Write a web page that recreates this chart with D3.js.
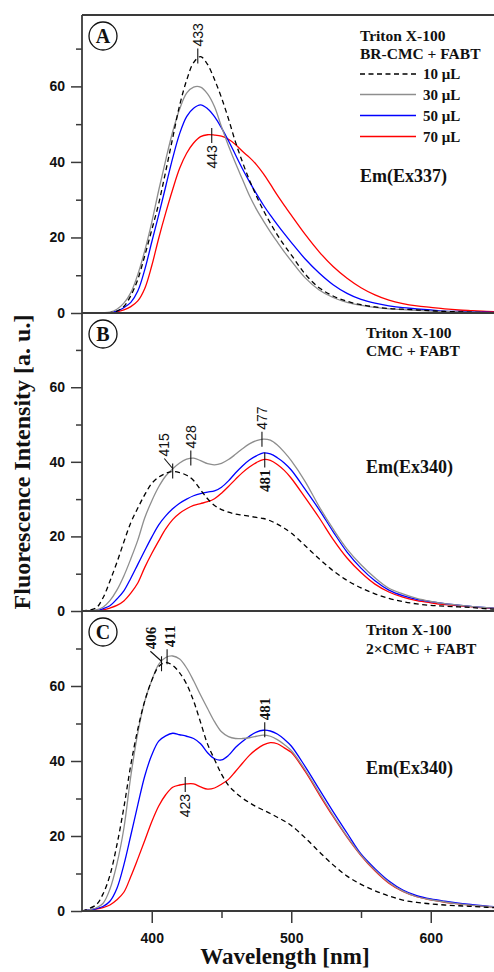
<!DOCTYPE html>
<html><head><meta charset="utf-8">
<script src="https://cdn.jsdelivr.net/npm/d3@7"></script>
<style>body{margin:0;background:#fff}svg{display:block}</style>
</head><body><svg id="c" width="494" height="972"></svg>
<script>
// ---------- DATA ----------
const wavelengths = [350,360,365,370,375,380,385,390,395,400,405,410,415,420,425,430,435,440,445,450,455,460,465,470,475,480,485,490,495,500,510,520,530,540,550,560,570,580,590,600,610,620,630,640,650];
const xTicks = [400,500,600];
const xMinorTicks = [450,550];
const yTicks = [0,20,40,60];
const yMinorTicks = [10,30,50,70];
const seriesNames = ["10 \u03bcL","30 \u03bcL","50 \u03bcL","70 \u03bcL"];

// Panel A: BR-CMC + FABT, Em(Ex337)
const A_10 = [0,0,0,0.1,0.5,1.7,4.6,8.9,15.2,22,29,37.5,46.3,55,61.6,66.3,67.9,65.8,61.8,57,51.4,45.3,40,35.2,31,27.2,23.8,20.7,17.9,15.4,10.3,6.7,4.5,3.1,2.2,1.6,1.2,1,0.8,0.6,0.4,0.3,0.2,0.1,0.1];
const A_30 = [0,0,0.05,0.2,1.0,2.6,5.4,10.2,16.5,24,32.5,40.5,48,54,58.2,59.8,59.8,58,54.6,49.3,44.3,39.7,35.4,31.1,27.5,24.4,21.5,18.8,16.2,13.8,9.3,6.1,4.1,2.8,2.0,1.5,1.1,0.9,0.7,0.5,0.4,0.3,0.2,0.1,0.1];
const A_50 = [0,0,0,0.1,0.5,1.4,2.8,5.8,11.5,18.8,26,33.5,41,47.5,52,54.2,55.1,54.1,52,49,45.6,41.9,38.2,34.8,31.6,28.6,25.9,23.4,21,18.7,14.3,10.6,7.5,5.2,3.6,2.6,1.9,1.4,1.1,0.8,0.5,0.4,0.3,0.2,0.1];
const A_70 = [0,0,0,0.1,0.3,0.8,1.7,3.2,6.5,12.5,19.8,26.5,32.7,38.3,42.3,45,46.7,47.2,47.1,46.8,46,44.6,42.8,41.2,39.3,36.9,34.1,31.2,28.5,25.9,20.8,16.2,12.3,9.2,6.7,4.8,3.4,2.5,1.9,1.5,1.1,0.8,0.6,0.4,0.3];

// Panel B: CMC + FABT, Em(Ex340)
const B_10 = [0,0.8,3.5,8,13,18.5,23.7,27.6,31.2,34.2,35.9,36.9,37.4,37.1,36.4,35,32.5,30.1,28.3,27.2,26.5,26,25.7,25.4,25.1,24.8,24.2,23.3,22.2,20.9,17.5,14,10.8,8.2,6.2,4.6,3.4,2.5,1.9,1.5,1.3,1.1,0.9,0.6,0.4];
const B_30 = [0,0.3,1,2.8,5.6,9.4,14,19,25,29.5,33.3,36.2,38.1,39.7,40.7,41,40.3,39.5,39.2,39.6,40.6,42,43.5,44.8,45.7,46.1,45.8,44.5,42.6,40.3,34.7,28,22,16.6,12.4,8.9,6.1,4.6,3.4,2.6,2.0,1.6,1.2,0.9,0.7];
const B_50 = [0,0.1,0.6,1.4,3.2,5.4,8.8,12.5,16.2,19.8,23.1,25.5,27.4,28.9,30,30.9,31.5,31.9,32.2,33.2,34.9,37,38.9,40.5,41.6,42.4,42.1,41.1,39.7,37.8,32.6,27.2,21.3,15.8,11.5,8.1,5.6,4.1,3.1,2.5,2.0,1.6,1.2,0.9,0.7];
const B_70 = [0,0,0.3,0.8,1.5,2.7,4.8,7.5,11.7,15.4,18.8,22,24.5,26.2,27.4,28.3,28.8,29.3,30.1,31.6,33.4,35.3,37.1,38.6,39.8,40.6,40.4,39.3,37.7,35.6,30.4,25,19.2,14.2,10.3,7.2,5.1,3.7,2.8,2.2,1.7,1.4,1.1,0.8,0.6];

// Panel C: 2xCMC + FABT, Em(Ex340)
const C_10 = [0,1.6,4.5,9.5,17.6,27.6,39,48.5,56,61.5,65.2,66.3,65.5,63.5,60.5,56,50.3,44.5,40.4,36.5,33.5,31.6,30.1,28.9,27.8,26.9,26,25,24,22.8,19.5,15.8,12.3,9.3,7.1,5.4,4,2.9,2.3,1.9,1.6,1.4,1.2,1.0,0.8];
const C_30 = [0,0.8,2,5.8,12.5,22,36,47.5,56,61.5,65.8,67.6,68,67.2,64.8,61.4,57.6,54,50.5,47.8,46.5,46,46,46.2,46.6,46.9,46.6,45.7,44.4,42.8,37.6,31.5,25.5,19.9,14.9,10.9,7.6,5.3,3.8,3,2.4,1.9,1.5,1.2,1.0];
const C_50 = [0,0.6,1.2,2.6,6,12.3,20.2,28.3,36,41.6,45.3,46.7,47.4,47,46.6,46,44.6,42.2,40.6,40.3,41.5,43.6,45.2,46.6,47.7,48.2,48,47.2,45.8,44,38.5,32.5,26.5,20.8,15.2,11.3,8,5.6,4.1,3.2,2.6,2.1,1.7,1.3,1.0];
const C_70 = [0,0.5,0.9,1.6,3,5,9.2,13.9,18.8,23.8,28,31,33,33.6,33.9,33.9,33.1,32.5,32.8,33.8,35.1,37.2,39.4,41.5,43.1,44.3,44.9,44.6,43.5,42.3,37.2,31.1,25.2,19.7,14.8,10.7,7.4,5.2,3.8,3,2.3,1.9,1.5,1.2,0.9];

const panelLetters = ["A","B","C"];
const panelSeries = [[A_10,A_30,A_50,A_70],[B_10,B_30,B_50,B_70],[C_10,C_30,C_50,C_70]];
const panelTitles = [["Triton X-100","BR-CMC + FABT"],["Triton X-100","CMC + FABT"],["Triton X-100","2\u00d7CMC + FABT"]];
const panelEm = ["Em(Ex337)","Em(Ex340)","Em(Ex340)"];
// peak annotations: panel index, label, wavelength, intensity, side, label shift (nm), serif?
const annotations = [
  [0,"433",433,67.9,"up",0,false],
  [0,"443",443,47.1,"down",0,false],
  [1,"415",415,37.4,"up",-6,false],
  [1,"428",428,40.9,"up",0,false],
  [1,"477",479,45.9,"up",0,false],
  [1,"481",481,40.6,"down",0,true],
  [2,"406",407,65.8,"up",-8,true],
  [2,"411",411,67.7,"up",2,true],
  [2,"423",424,33.9,"down",0,false],
  [2,"481",481,48.2,"up",0,true]
];

// ---------- LAYOUT ----------
const W = 494, H = 972;
const left = 82;
const panels = [{top:15,bottom:313,ymax:78.9},{top:313,bottom:611,ymax:79.9},{top:611,bottom:911,ymax:80}];
const colors = ["#000000","#8e8e8e","#0000ff","#ff0000"];
const dashes = ["5,3.5",null,null,null];
const axisColor = "#3a3a3a";
const serif = "'Liberation Serif','Times New Roman',serif";
const sans = "'Liberation Sans',Arial,sans-serif";

const svg = d3.select("#c");
const x = d3.scaleLinear().domain([350,650]).range([left, left + 300*1.395]);

panels.forEach((p,i) => {
  const y = d3.scaleLinear().domain([0,p.ymax]).range([p.bottom,p.top]);
  const g = svg.append("g");
  const clipId = "clip"+i;
  svg.append("clipPath").attr("id",clipId).append("rect")
     .attr("x",left).attr("y",p.top).attr("width",W-left).attr("height",p.bottom-p.top);

  const line = d3.line().x((d,k)=>x(wavelengths[k])).y(d=>y(d)).curve(d3.curveCatmullRom.alpha(0.5));
  [3,2,1,0].forEach(s => {
    g.append("path").attr("clip-path","url(#"+clipId+")")
      .attr("d", line(panelSeries[i][s]))
      .attr("fill","none").attr("stroke",colors[s]).attr("stroke-width",1.3)
      .attr("stroke-dasharray",dashes[s]);
  });

  const ax = d3.axisLeft(y).tickValues(yTicks).tickSize(11).tickPadding(6).tickFormat(d3.format("d"));
  const ga = g.append("g").attr("transform","translate("+left+",0)").call(ax);
  ga.select(".domain").remove();
  ga.selectAll(".tick line").attr("stroke",axisColor).attr("stroke-width",1.5);
  ga.selectAll(".tick text").attr("font-family",sans).attr("font-weight","bold").attr("font-size",14).attr("fill","#111");
  const am = d3.axisLeft(y).tickValues(yMinorTicks).tickSize(6).tickFormat("");
  const gm = g.append("g").attr("transform","translate("+left+",0)").call(am);
  gm.select(".domain").remove();
  gm.selectAll(".tick line").attr("stroke",axisColor).attr("stroke-width",1.5);

  g.append("line").attr("x1",left).attr("x2",W).attr("y1",p.top).attr("y2",p.top).attr("stroke",axisColor).attr("stroke-width",1.8);
  g.append("line").attr("x1",left).attr("x2",W).attr("y1",p.bottom).attr("y2",p.bottom).attr("stroke",axisColor).attr("stroke-width",1.8);
  g.append("line").attr("x1",left).attr("x2",left).attr("y1",p.top).attr("y2",p.bottom).attr("stroke",axisColor).attr("stroke-width",1.8);

  g.append("circle").attr("cx",left+21).attr("cy",p.top+21).attr("r",14).attr("fill","none").attr("stroke","#111").attr("stroke-width",1.3);
  g.append("text").attr("x",left+21).attr("y",p.top+28).attr("text-anchor","middle")
    .attr("font-family",serif).attr("font-weight","bold").attr("font-size",20).attr("fill","#111").text(panelLetters[i]);

  const tx = i===0 ? 360 : 366;
  const tb = i===0 ? [41,58.5] : (i===1 ? [338,356] : [634.5,653.5]);
  panelTitles[i].forEach((t,k)=>{
    g.append("text").attr("x",tx).attr("y",tb[k]).attr("font-family",serif).attr("font-weight","bold")
      .attr("font-size",15.5).attr("fill","#111").text(t);
  });
  const emY = [182,473,774][i];
  g.append("text").attr("x",tx).attr("y",emY).attr("font-family",serif).attr("font-weight","bold")
    .attr("font-size",18).attr("fill","#111").text(panelEm[i]);

  if (i===0) {
    const ly = [74,94.5,115.5,136.5];
    seriesNames.forEach((nm,s)=>{
      g.append("line").attr("x1",360).attr("x2",416).attr("y1",ly[s]).attr("y2",ly[s])
        .attr("stroke",colors[s]).attr("stroke-width",1.3).attr("stroke-dasharray",dashes[s]);
      g.append("text").attr("x",423).attr("y",ly[s]+5).attr("font-family",serif).attr("font-weight","bold")
        .attr("font-size",15).attr("fill","#111").text(nm);
    });
  }

  annotations.filter(a=>a[0]===i).forEach(a=>{
    const [, lab, wl, val, side, shift, isSerif] = a;
    const px = x(wl), py = y(val);
    const dir = side==="up" ? -1 : 1;
    g.append("line").attr("x1",px).attr("x2",px).attr("y1",py - dir*7).attr("y2",py + dir*8)
      .attr("stroke","#111").attr("stroke-width",1.1);
    let lx = px;
    const diag = Math.abs(shift) > 3;
    if (shift !== 0) {
      lx = x(wl+shift);
      if (diag) {
        g.append("line").attr("x1",px).attr("y1",py-3).attr("x2",lx).attr("y2",py-13)
          .attr("stroke","#111").attr("stroke-width",1.1);
      }
    }
    const ty = diag ? py - 15 : py + dir*10;
    g.append("text").attr("transform","translate("+lx+","+ty+") rotate(-90)")
      .attr("text-anchor", side==="up" ? "start" : "end").attr("dy","0.36em")
      .attr("font-family", isSerif ? serif : sans).attr("font-weight", isSerif ? "bold" : "normal")
      .attr("font-size", isSerif ? 15 : 14).attr("fill","#111").text(lab);
  });
});

const last = panels[2];
const xa = d3.axisBottom(x).tickValues(xTicks).tickSize(12).tickPadding(10).tickFormat(d3.format("d"));
const gx = svg.append("g").attr("transform","translate(0,"+last.bottom+")").call(xa);
gx.select(".domain").remove();
gx.selectAll(".tick line").attr("stroke",axisColor).attr("stroke-width",1.5);
gx.selectAll(".tick text").attr("font-family",sans).attr("font-weight","bold").attr("font-size",14).attr("fill","#111");
const xm = d3.axisBottom(x).tickValues(xMinorTicks).tickSize(7).tickFormat("");
const gxm = svg.append("g").attr("transform","translate(0,"+last.bottom+")").call(xm);
gxm.select(".domain").remove();
gxm.selectAll(".tick line").attr("stroke",axisColor).attr("stroke-width",1.5);

svg.append("text").attr("x",285).attr("y",964).attr("text-anchor","middle")
  .attr("font-family",serif).attr("font-weight","bold").attr("font-size",23).attr("fill","#111").text("Wavelength [nm]");
svg.append("text").attr("transform","translate(30,462) rotate(-90)").attr("text-anchor","middle")
  .attr("font-family",serif).attr("font-weight","bold").attr("font-size",24).attr("fill","#111").text("Fluorescence Intensity [a. u.]");
</script></body></html>
